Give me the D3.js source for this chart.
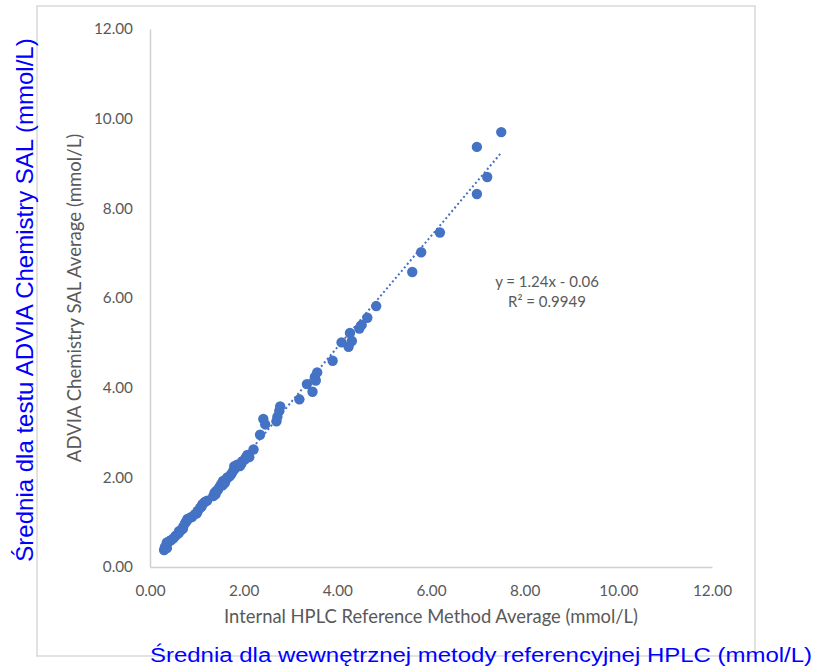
<!DOCTYPE html>
<html>
<head>
<meta charset="utf-8">
<script src="https://cdn.jsdelivr.net/npm/d3@7"></script>
<style>
  body { margin: 0; background: #fff; }
  svg { display: block; }
  .tick text { font-family: Lato, "Open Sans", sans-serif; font-size: 15.3px; fill: #595959; }
</style>
</head>
<body>
<div id="chart"></div>
<script>
// Width and height
const WIDTH = 816;
const HEIGHT = 671;

// Data: HPLC reference average (x) vs ADVIA Chemistry SAL average (y), mmol/L
const hplcValues = [
  0.30, 0.32, 0.36, 0.36, 0.42, 0.45, 0.50, 0.55, 0.61, 0.62,
  0.66, 0.70, 0.71, 0.75, 0.78, 0.80, 0.86, 0.90, 0.96, 1.00,
  1.02, 1.07, 1.10, 1.12, 1.17, 1.22, 1.35, 1.38, 1.40, 1.42,
  1.45, 1.48, 1.52, 1.55, 1.56, 1.60, 1.64, 1.65, 1.70, 1.74,
  1.78, 1.80, 1.82, 1.86, 1.92, 1.95, 1.97, 2.03, 2.05, 2.08,
  2.12, 2.21, 2.35, 2.42, 2.46, 2.70, 2.72, 2.76, 2.78, 3.19,
  3.35, 3.47, 3.52, 3.54, 3.57, 3.90, 4.09, 4.24, 4.31, 4.27,
  4.47, 4.52, 4.64, 4.83, 5.60, 5.79, 6.19, 6.98, 7.20, 6.98,
  7.50
];
const adviaValues = [
  0.38, 0.45, 0.55, 0.42, 0.58, 0.60, 0.64, 0.70, 0.75, 0.80,
  0.82, 0.85, 0.90, 0.98, 1.02, 1.07, 1.10, 1.12, 1.18, 1.20,
  1.25, 1.32, 1.35, 1.40, 1.45, 1.48, 1.58, 1.66, 1.62, 1.70,
  1.72, 1.78, 1.85, 1.82, 1.92, 1.88, 1.97, 2.00, 2.02, 2.08,
  2.15, 2.25, 2.20, 2.28, 2.25, 2.30, 2.36, 2.40, 2.45, 2.50,
  2.45, 2.62, 2.95, 3.30, 3.18, 3.25, 3.35, 3.48, 3.58, 3.74,
  4.08, 3.91, 4.24, 4.16, 4.34, 4.60, 5.01, 4.91, 5.04, 5.22,
  5.32, 5.40, 5.56, 5.82, 6.58, 7.02, 7.46, 8.32, 8.70, 9.37,
  9.70
];

// Axis ticks
const tickValues = [0, 2, 4, 6, 8, 10, 12];

// Linear trendline shown on the chart
const trendSlope = 1.24;
const trendIntercept = -0.06;
const trendLabels = ["y = 1.24x - 0.06", "R² = 0.9949"];

// Titles
const xTitle = "Internal HPLC Reference Method Average (mmol/L)";
const yTitle = "ADVIA Chemistry SAL Average (mmol/L)";
const xTitlePl = "Średnia dla wewnętrznej metody referencyjnej HPLC (mmol/L)";
const yTitlePl = "Średnia dla testu ADVIA Chemistry SAL (mmol/L)";

const points = hplcValues.map((v, i) => ({ x: v, y: adviaValues[i] }));

// SVG
const svg = d3
  .select("#chart")
  .append("svg")
  .attr("width", WIDTH)
  .attr("height", HEIGHT);

// Chart frame
svg
  .append("rect")
  .attr("x", 37)
  .attr("y", 6)
  .attr("width", 718)
  .attr("height", 650)
  .attr("fill", "#fff")
  .attr("stroke", "#d9d9d9")
  .attr("stroke-width", 1.5);

// Scales
const x = d3.scaleLinear().domain([0, 12]).range([150, 712]);
const y = d3.scaleLinear().domain([0, 12]).range([567, 29]);

// Axes
const xAxis = svg
  .append("g")
  .attr("transform", "translate(0," + y(0) + ")")
  .call(d3.axisBottom(x).tickValues(tickValues).tickSize(0).tickPadding(18).tickFormat(d3.format(".2f")));
xAxis.select(".domain").attr("stroke", "#d0d0d0").attr("stroke-width", 1.5);

const yAxis = svg
  .append("g")
  .attr("transform", "translate(" + x(0) + ",0)")
  .call(d3.axisLeft(y).tickValues(tickValues).tickSize(0).tickPadding(17).tickFormat(d3.format(".2f")));
yAxis.select(".domain").attr("stroke", "#d0d0d0").attr("stroke-width", 1.5);

// Axis titles, centred on the plot area
svg
  .append("text")
  .attr("x", (x.range()[0] + x.range()[1]) / 2)
  .attr("y", 623)
  .attr("text-anchor", "middle")
  .attr("font-family", "Lato, 'Open Sans', sans-serif")
  .attr("font-size", 18.4)
  .attr("fill", "#595959")
  .text(xTitle);

svg
  .append("text")
  .attr("transform", "translate(81," + (y.range()[0] + y.range()[1]) / 2 + ") rotate(-90)")
  .attr("text-anchor", "middle")
  .attr("font-family", "Lato, 'Open Sans', sans-serif")
  .attr("font-size", 18.6)
  .attr("fill", "#595959")
  .text(yTitle);

// Trendline
const xExtent = d3.extent(hplcValues);
svg
  .append("line")
  .attr("x1", x(xExtent[0]))
  .attr("y1", y(trendSlope * xExtent[0] + trendIntercept))
  .attr("x2", x(xExtent[1]))
  .attr("y2", y(trendSlope * xExtent[1] + trendIntercept))
  .attr("stroke", "#4472c4")
  .attr("stroke-width", 2)
  .attr("stroke-dasharray", "2,2.6");

// Points
svg
  .append("g")
  .selectAll("circle")
  .data(points)
  .enter()
  .append("circle")
  .attr("cx", (d) => x(d.x))
  .attr("cy", (d) => y(d.y))
  .attr("r", 5.2)
  .attr("fill", "#4472c4");

// Trendline label
svg
  .append("g")
  .selectAll("text")
  .data(trendLabels)
  .enter()
  .append("text")
  .attr("x", 547)
  .attr("y", (d, i) => 287 + i * 20)
  .attr("text-anchor", "middle")
  .attr("font-family", "Lato, 'Open Sans', sans-serif")
  .attr("font-size", 15)
  .attr("fill", "#595959")
  .text((d) => d);

// Polish annotations in blue
svg
  .append("text")
  .attr("x", 481)
  .attr("y", 662)
  .attr("text-anchor", "middle")
  .attr("font-family", "'Liberation Sans', Arial, sans-serif")
  .attr("font-size", 19.5)
  .attr("textLength", 662)
  .attr("lengthAdjust", "spacingAndGlyphs")
  .attr("fill", "#0000ff")
  .text(xTitlePl);

svg
  .append("text")
  .attr("transform", "translate(33,300) rotate(-90)")
  .attr("text-anchor", "middle")
  .attr("font-family", "'Liberation Sans', Arial, sans-serif")
  .attr("font-size", 24)
  .attr("fill", "#0000ff")
  .text(yTitlePl);
</script>
</body>
</html>
